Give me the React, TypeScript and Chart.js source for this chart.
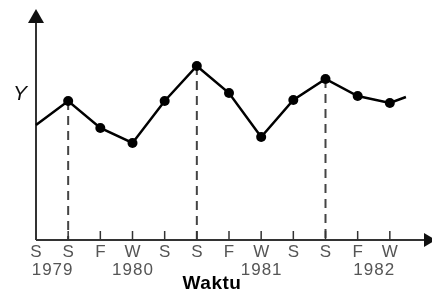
import React, { useEffect, useRef } from "react";
import { Chart, registerables } from "chart.js";

Chart.register(...registerables);

// Season categories along the time axis
const seasons = ["S", "S", "F", "W", "S", "S", "F", "W", "S", "S", "F", "W"];
// Year labels and the category position they sit under
const years = ["1979", "1980", "1981", "1982"];
const yearAt = [0.5, 3, 7, 10.5];
// Series values (index 0 is the starting value at the axis, no marker)
const values = [115, 139, 112, 97, 139, 174, 147, 103, 140, 161, 144, 137];
// trailing segment past the last category
const trailingX = 11.5;
const trailingValue = 143;
// peaks marked with a dashed drop line
const dashedAt = [1, 5, 9];
const yLabel = "Y";
const xLabel = "Waktu";

export default function App() {
  const ref = useRef<HTMLCanvasElement>(null);

  useEffect(() => {
    document.body.style.margin = "0";
    const canvas = ref.current!;
    const points = values.map((v, i) => ({ x: i, y: v }));
    points.push({ x: trailingX, y: trailingValue });
    const radii = points.map((_, i) => (i === 0 || i === points.length - 1 ? 0 : 5));

    const axisPlugin = {
      id: "axisPlugin",
      beforeDatasetsDraw(chart: any) {
        const ctx = chart.ctx;
        const xs = chart.scales.x;
        const ys = chart.scales.y;
        const x0 = xs.getPixelForValue(0);
        const y0 = ys.getPixelForValue(0);
        ctx.save();
        // dashed drop lines
        ctx.strokeStyle = "#444";
        ctx.lineWidth = 2;
        ctx.setLineDash([9, 6]);
        dashedAt.forEach((i) => {
          const px = xs.getPixelForValue(i);
          ctx.beginPath();
          ctx.moveTo(px, ys.getPixelForValue(values[i]));
          ctx.lineTo(px, y0);
          ctx.stroke();
        });
        ctx.setLineDash([]);
        // axes
        ctx.strokeStyle = "#333";
        ctx.lineWidth = 2;
        ctx.beginPath();
        ctx.moveTo(x0, y0);
        ctx.lineTo(x0, 18);
        ctx.moveTo(x0, y0);
        ctx.lineTo(428, y0);
        ctx.stroke();
        // ticks
        ctx.lineWidth = 1.5;
        seasons.forEach((_, i) => {
          const px = xs.getPixelForValue(i);
          ctx.beginPath();
          ctx.moveTo(px, y0 - 9);
          ctx.lineTo(px, y0);
          ctx.stroke();
        });
        // arrows
        ctx.fillStyle = "#111";
        ctx.beginPath();
        ctx.moveTo(x0, 9);
        ctx.lineTo(x0 - 8, 23);
        ctx.lineTo(x0 + 8, 23);
        ctx.closePath();
        ctx.fill();
        ctx.beginPath();
        ctx.moveTo(436, y0);
        ctx.lineTo(424, y0 - 7);
        ctx.lineTo(424, y0 + 7);
        ctx.closePath();
        ctx.fill();
        ctx.restore();
      },
      afterDraw(chart: any) {
        const ctx = chart.ctx;
        const xs = chart.scales.x;
        const y0 = chart.scales.y.getPixelForValue(0);
        ctx.save();
        ctx.fillStyle = "#555";
        ctx.textAlign = "center";
        ctx.textBaseline = "alphabetic";
        ctx.font = "17px Arial";
        seasons.forEach((s, i) => {
          ctx.fillText(s, xs.getPixelForValue(i), y0 + 17);
        });
        (ctx as any).letterSpacing = "1px";
        years.forEach((yr, i) => {
          ctx.fillText(yr, xs.getPixelForValue(yearAt[i]) + 0.5, y0 + 35);
        });
        (ctx as any).letterSpacing = "0.5px";
        ctx.fillStyle = "#000";
        ctx.font = "bold 19px Arial";
        ctx.fillText(xLabel, 212, 289);
        (ctx as any).letterSpacing = "0px";
        ctx.font = "italic 21px Arial";
        ctx.fillStyle = "#111";
        ctx.fillText(yLabel, 20, 100);
        ctx.restore();
      },
    };

    const chart = new Chart(canvas, {
      type: "line",
      data: {
        datasets: [
          {
            data: points,
            borderColor: "#000",
            borderWidth: 2.5,
            pointRadius: radii,
            pointBackgroundColor: "#000",
            pointBorderColor: "#000",
            pointBorderWidth: 0,
            tension: 0,
            clip: false as any,
          },
        ],
      },
      options: {
        responsive: false,
        animation: false,
        devicePixelRatio: 1,
        layout: { padding: { left: 36, right: 10, top: 12, bottom: 49 } },
        plugins: { legend: { display: false }, tooltip: { enabled: false } },
        scales: {
          x: { type: "linear", min: 0, max: 12, display: false },
          y: { type: "linear", min: 0, max: 228, display: false },
        },
      },
      plugins: [axisPlugin],
    });
    return () => chart.destroy();
  }, []);

  return (
    <div style={{ position: "fixed", left: 0, top: 0, width: 432, height: 289, background: "#fff" }}>
      <canvas ref={ref} width={432} height={289} />
    </div>
  );
}
